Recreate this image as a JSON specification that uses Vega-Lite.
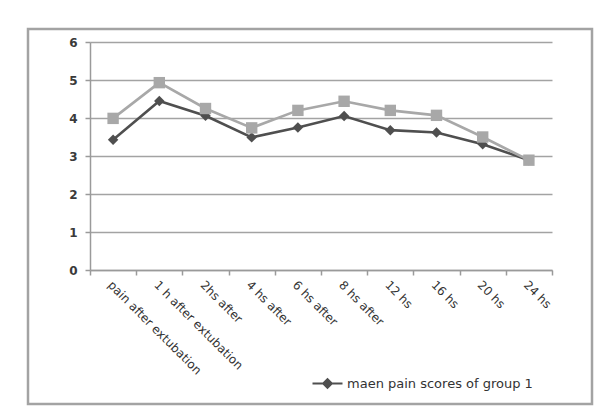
{
  "$schema": "https://vega.github.io/schema/vega-lite/v6.json",
  "width": 564,
  "height": 375,
  "autosize": {"type": "none"},
  "padding": {"left": 28, "top": 29, "right": 10, "bottom": 15},
  "background": "white",
  "config": {
    "font": "DejaVu Sans",
    "view": {"stroke": "#a3a3a3", "strokeWidth": 2.5}
  },
  "data": {
    "values": [
      {"time": "pain after extubation", "group": "maen pain scores of group 1", "score": 3.43},
      {"time": "1 h after extubation", "group": "maen pain scores of group 1", "score": 4.45},
      {"time": "2hs after", "group": "maen pain scores of group 1", "score": 4.06},
      {"time": "4 hs after", "group": "maen pain scores of group 1", "score": 3.49},
      {"time": "6 hs after", "group": "maen pain scores of group 1", "score": 3.75},
      {"time": "8 hs after", "group": "maen pain scores of group 1", "score": 4.05},
      {"time": "12 hs", "group": "maen pain scores of group 1", "score": 3.68},
      {"time": "16 hs", "group": "maen pain scores of group 1", "score": 3.62},
      {"time": "20 hs", "group": "maen pain scores of group 1", "score": 3.31},
      {"time": "24 hs", "group": "maen pain scores of group 1", "score": 2.89},
      {"time": "pain after extubation", "group": "maen pain scores of group 2", "score": 3.99},
      {"time": "1 h after extubation", "group": "maen pain scores of group 2", "score": 4.93},
      {"time": "2hs after", "group": "maen pain scores of group 2", "score": 4.25},
      {"time": "4 hs after", "group": "maen pain scores of group 2", "score": 3.74},
      {"time": "6 hs after", "group": "maen pain scores of group 2", "score": 4.2},
      {"time": "8 hs after", "group": "maen pain scores of group 2", "score": 4.44},
      {"time": "12 hs", "group": "maen pain scores of group 2", "score": 4.2},
      {"time": "16 hs", "group": "maen pain scores of group 2", "score": 4.07},
      {"time": "20 hs", "group": "maen pain scores of group 2", "score": 3.5},
      {"time": "24 hs", "group": "maen pain scores of group 2", "score": 2.89}
    ]
  },
  "encoding": {
    "x": {
      "field": "time",
      "type": "nominal",
      "sort": null,
      "bandPosition": 0.5,
      "scale": {"type": "band", "range": [62, 524], "paddingInner": 0, "paddingOuter": 0},
      "axis": {
        "title": null,
        "offset": -134,
        "tickBand": "extent",
        "grid": false,
        "domainColor": "#9a9a9a",
        "domainWidth": 1.5,
        "tickColor": "#9a9a9a",
        "tickWidth": 1.5,
        "tickSize": 5,
        "labelAngle": 45,
        "labelAlign": "left",
        "labelBaseline": "top",
        "labelPadding": 4,
        "labelFontSize": 12,
        "labelColor": "#333333",
        "labelLimit": 300,
        "labelOverlap": false
      }
    },
    "y": {
      "field": "score",
      "type": "quantitative",
      "scale": {"domain": [0, 6], "range": [241, 13], "nice": false, "zero": true},
      "axis": {
        "title": null,
        "offset": -62,
        "gridScale": "x",
        "values": [0, 1, 2, 3, 4, 5, 6],
        "grid": true,
        "gridColor": "#a3a3a3",
        "gridWidth": 1.6,
        "domainColor": "#9a9a9a",
        "domainWidth": 1.5,
        "tickColor": "#9a9a9a",
        "tickWidth": 1.5,
        "tickSize": 5,
        "labelPadding": 8,
        "labelFontSize": 12,
        "labelFontWeight": "bold",
        "labelColor": "#3a3a3a"
      }
    }
  },
  "layer": [
    {
      "mark": {"type": "line", "strokeWidth": 2.6},
      "encoding": {
        "color": {
          "field": "group",
          "type": "nominal",
          "scale": {
            "domain": ["maen pain scores of group 1", "maen pain scores of group 2"],
            "range": ["#4f4f4f", "#a8a8a8"]
          },
          "legend": {
            "title": null,
            "values": ["maen pain scores of group 1"],
            "orient": "none",
            "legendX": 283,
            "legendY": 338,
            "symbolType": "M-1,0L1,0M0,-0.28L0.28,0L0,0.28L-0.28,0Z",
            "symbolSize": 900,
            "symbolStrokeWidth": 2.2,
            "symbolStrokeColor": "#4f4f4f",
            "symbolFillColor": "#4f4f4f",
            "labelFontSize": 13,
            "labelColor": "#333333",
            "labelOffset": 3,
            "labelLimit": 400,
            "encode": {
              "symbols": {
                "update": {
                  "stroke": {"value": "#4f4f4f"},
                  "fill": {"value": "#4f4f4f"},
                  "strokeWidth": {"value": 2.2}
                }
              }
            }
          }
        }
      }
    },
    {
      "transform": [{"filter": "datum.group === 'maen pain scores of group 1'"}],
      "mark": {"type": "point", "shape": "diamond", "filled": true, "opacity": 1, "size": 110, "color": "#4f4f4f"}
    },
    {
      "transform": [{"filter": "datum.group === 'maen pain scores of group 2'"}],
      "mark": {"type": "point", "shape": "square", "filled": true, "opacity": 1, "size": 130, "color": "#a8a8a8"}
    }
  ]
}
